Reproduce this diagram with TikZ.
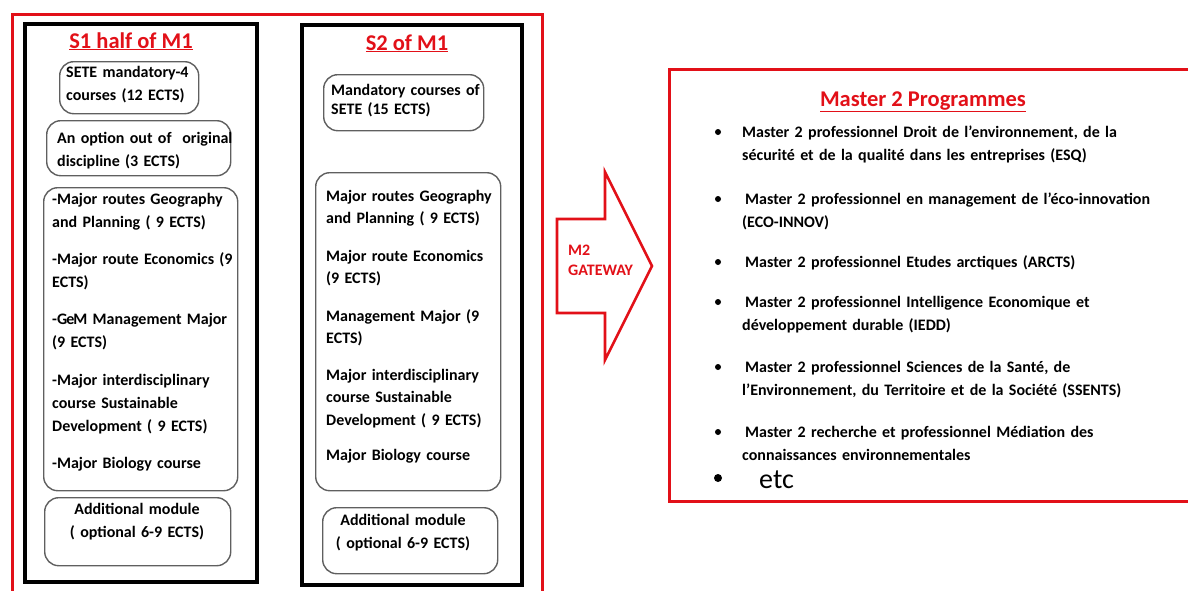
\documentclass[tikz,border=0pt]{standalone}
\usepackage{fontspec}
\setmainfont{Carlito}
\definecolor{redc}{RGB}{226,16,24}
\definecolor{boxgray}{RGB}{95,95,95}
\begin{document}
\begin{tikzpicture}[x=1pt,y=-1pt,
  redframe/.style={draw=redc, line width=3pt, inner sep=0pt, anchor=north west},
  blackframe/.style={draw=black, line width=3.6pt, inner sep=0pt, anchor=north west},
  rbox/.style={draw=boxgray, line width=1.4pt, rounded corners=14pt, inner sep=0pt, anchor=north west},
  body/.style={font=\fontsize{16}{23}\selectfont\bfseries, inner sep=0pt, anchor=base west, align=left, text width=#1},
  body/.default=200pt,
  ctext/.style={font=\fontsize{16}{23}\selectfont\bfseries, inner sep=0pt, anchor=base, align=center, text width=180pt},
  title/.style={font=\fontsize{22.5}{26}\selectfont\bfseries, text=redc, inner sep=0pt, anchor=base},
  bul/.style={circle, fill=black, inner sep=0pt, minimum size=6pt},
  item/.style={font=\fontsize{16}{23}\selectfont\bfseries, inner sep=0pt, anchor=base west, align=left, text width=440pt}
]
\useasboundingbox (0,0) rectangle (1188,590);
\clip (0,0) rectangle (1188,590);

% outer red frames
\node[redframe, minimum width=530pt, minimum height=600pt] (m1frame) at (11,13) {};
\node[redframe, minimum width=540pt, minimum height=432pt] (m2frame) at (668,68) {};

% black frames
\node[blackframe, minimum width=232pt, minimum height=558pt] (s1frame) at (23,22) {};
\node[blackframe, minimum width=220pt, minimum height=560pt] (s2frame) at (300,23) {};

% titles
\node[title] (s1title) at (131,48) {\underline{S1 half of M1}};
\node[title] (s2title) at (407,50) {\underline{S2 of M1}};
\node[title] (m2title) at (923,106) {\underline{Master 2 Programmes}};

% S1 boxes
\node[rbox, minimum width=139pt, minimum height=52pt] (s1a) at (59,61) {};
\node[rbox, minimum width=184pt, minimum height=55pt] (s1b) at (46,120) {};
\node[rbox, minimum width=194pt, minimum height=303pt] (s1c) at (43,187) {};
\node[rbox, minimum width=186pt, minimum height=68pt] (s1d) at (44,497) {};

\node[body] (t1a) at (66,77) {SETE mandatory-4\\courses (12 ECTS)};
\node[body] (t1b) at (57,143) {An option out of \ original\\discipline (3 ECTS)};
\node[body] (t1c) at (52,204) {-Major routes Geography\\and Planning ( 9 ECTS)\\[14pt]
-Major route Economics (9\\ECTS)\\[14pt]
-G\hspace{-1pt}e\hspace{-1pt}M Management Major\\(9 ECTS)\\[15pt]
-Major interdisciplinary\\course Sustainable\\Development ( 9 ECTS)\\[14pt]
-Major Biology course};
\node[ctext] (t1d) at (137,514) {Additional module\\( optional 6-9 ECTS)};

% S2 boxes
\node[rbox, minimum width=160pt, minimum height=56pt] (s2a) at (323,74) {};
\node[rbox, minimum width=185pt, minimum height=318pt] (s2b) at (315,172) {};
\node[rbox, minimum width=175pt, minimum height=66pt] (s2d) at (322,507) {};

\node[body, font=\fontsize{16}{19.5}\selectfont\bfseries] (t2a) at (331,95) {Mandatory courses of\\SETE (15 ECTS)};
\node[body, font=\fontsize{16}{22.5}\selectfont\bfseries] (t2b) at (326,201) {Major routes Geography\\and Planning ( 9 ECTS)\\[15pt]
Major route Economics\\(9 ECTS)\\[15pt]
Management Major (9\\ECTS)\\[14pt]
Major interdisciplinary\\course Sustainable\\Development ( 9 ECTS)\\[13pt]
Major Biology course};
\node[ctext] (t2d) at (403,525) {Additional module\\( optional 6-9 ECTS)};

% gateway arrow
\draw[draw=redc, line width=2.6pt, line join=miter]
  (557,219) -- (605,219) -- (605,172) -- (652,266) -- (605,360) -- (605,313) -- (557,313) -- cycle;
\node[body=80pt, font=\fontsize{16}{20}\selectfont\bfseries, text=redc] (gw) at (568,255) {M2\\GATEWAY};

% Master 2 list
\node[bul] (b1) at (718,132) {};
\node[item] (i1) at (742,137) {Master 2 professionnel Droit de l’environnement, de la\\sécurité et de la qualité dans les entreprises (ESQ)};
\node[bul] (b2) at (718,199) {};
\node[item] (i2) at (742,204) {\hspace{3pt}Master 2 professionnel en management de l’éco-innovation\\(ECO-INNOV)};
\node[bul] (b3) at (718,262) {};
\node[item] (i3) at (742,267) {\hspace{3pt}Master 2 professionnel Etudes arctiques (ARCTS)};
\node[bul] (b4) at (718,302) {};
\node[item] (i4) at (742,307) {\hspace{3pt}Master 2 professionnel Intelligence Economique et\\développement durable (IEDD)};
\node[bul] (b5) at (718,367) {};
\node[item] (i5) at (742,372) {\hspace{3pt}Master 2 professionnel Sciences de la Santé, de\\l’Environnement, du Territoire et de la Société (SSENTS)};
\node[bul] (b6) at (718,432) {};
\node[item] (i6) at (742,437) {\hspace{3pt}Master 2 recherche et professionnel Médiation des\\connaissances environnementales};
\node[bul, minimum size=8pt] (b7) at (718,478) {};
\node[inner sep=0pt, anchor=base west, font=\fontsize{28}{30}\selectfont] (etc) at (759,488) {etc};
\end{tikzpicture}
\end{document}
